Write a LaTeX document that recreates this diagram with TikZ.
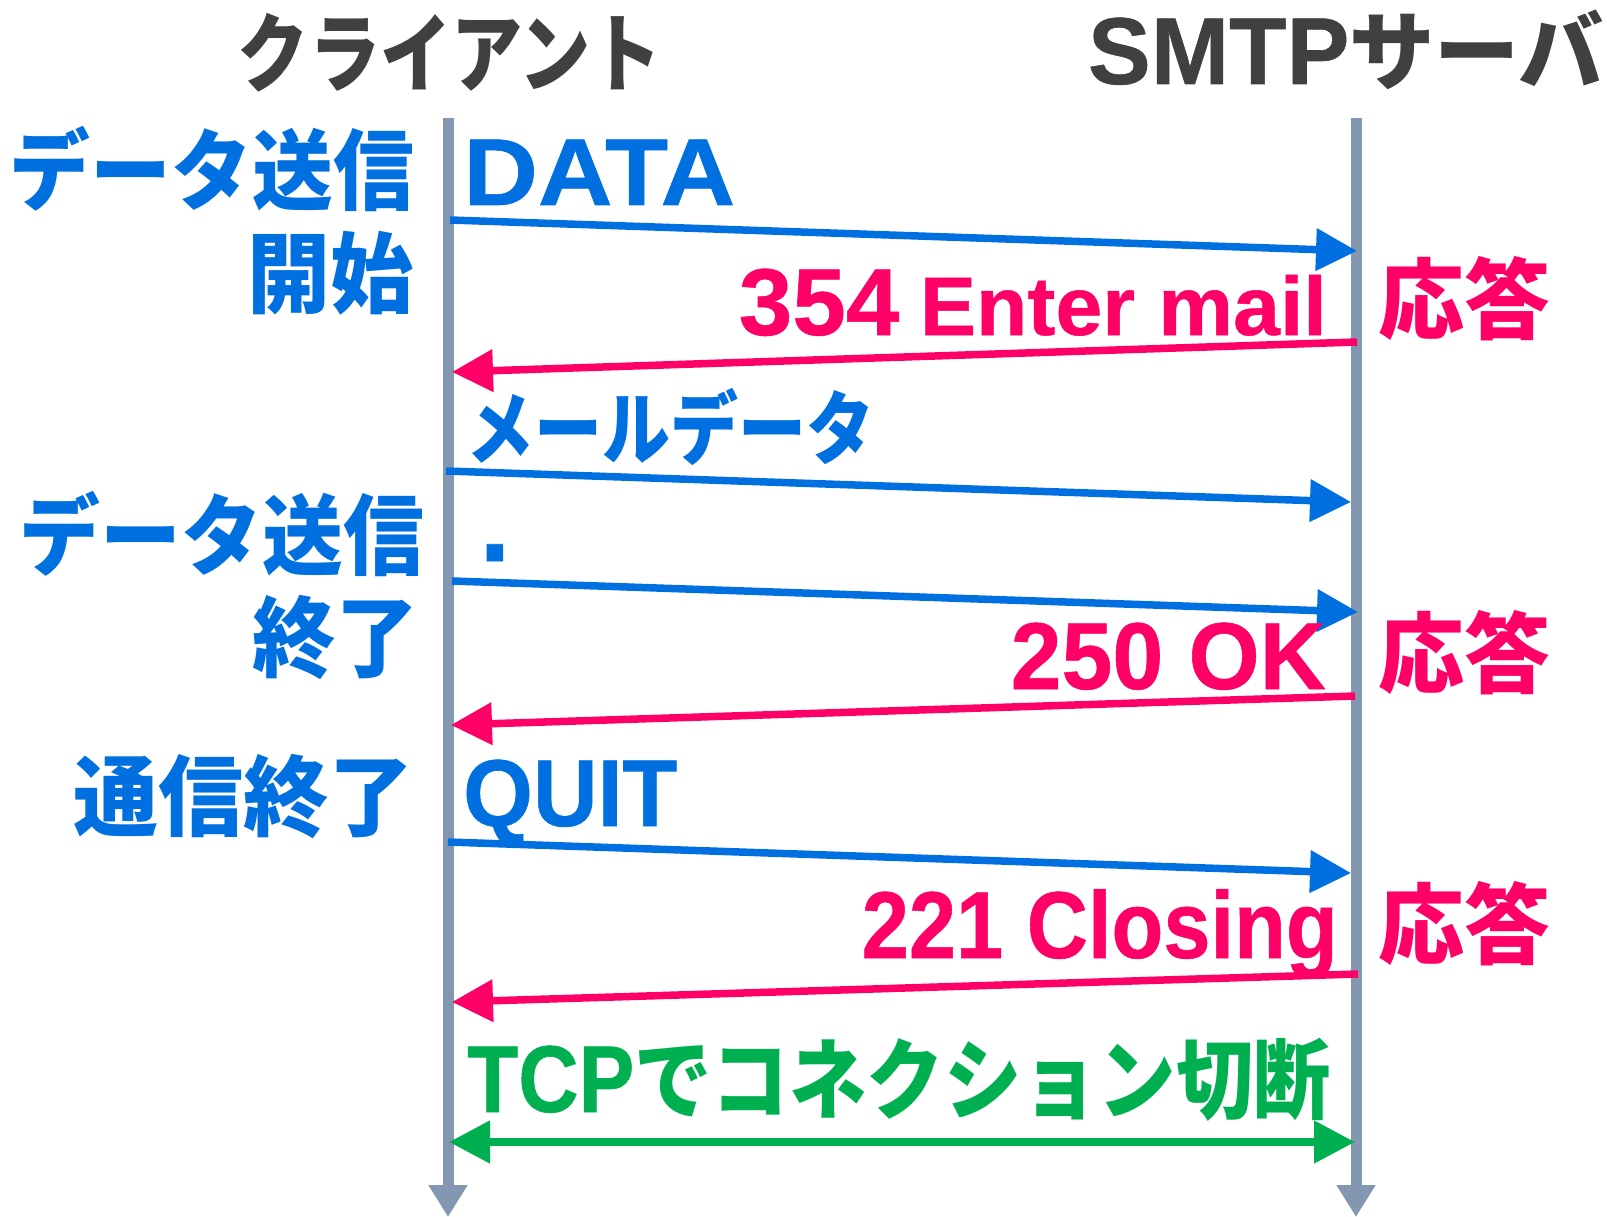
\documentclass[tikz,border=0pt]{standalone}
\usepackage{fontspec}
\setmainfont{Noto Sans CJK JP}
\newfontfamily\lat{Liberation Sans}[FakeBold=0.6]
\newcommand\latL{\lat\fontsize{95}{110}\selectfont}
\newcommand\latS{\lat\fontsize{83}{100}\selectfont}
\newcommand\fitw[2]{\resizebox{#1pt}{\height}{#2}}
\usetikzlibrary{arrows.meta}
\definecolor{cblue}{HTML}{0070E0}
\definecolor{cred}{HTML}{FF0066}
\definecolor{cgreen}{HTML}{00B050}
\definecolor{cgray}{HTML}{8497B0}
\definecolor{ctext}{HTML}{404040}
\begin{document}
\begin{tikzpicture}[x=1pt,y=-1pt,
  lifeline/.style={cgray, line width=11pt, -{Triangle[length=32pt 0, width=37pt 0]}},
  msg/.style={line width=7.5pt, -{Triangle[length=41pt 0, width=41pt 0]}},
  req/.style={msg, cblue},
  resp/.style={msg, cred},
  big/.style={inner sep=0pt, font=\fontsize{88}{100}\selectfont\bfseries},
  head/.style={big, ctext, font=\fontsize{86}{100}\selectfont\bfseries},
  btxt/.style={big, cblue},
  rtxt/.style={big, cred},
  gtxt/.style={big, cgreen}]
\useasboundingbox (0,0) rectangle (1607,1217);
% lifelines
\coordinate (ctop) at (448,118);
\coordinate (cbot) at (448,1217);
\coordinate (stop) at (1356,118);
\coordinate (sbot) at (1356,1217);
\draw[lifeline] (ctop) -- (cbot);
\draw[lifeline] (stop) -- (sbot);
% headers
\node[head, anchor=base] (hc) at (450,86) {\fitw{424}{クライアント}};
\node[head, anchor=base] (hs) at (1346,84) {\fitw{516}{{\latL SMTP}サーバ}};
% left labels
\node[btxt, anchor=base east] (l1) at (414,204) {\fitw{404}{データ送信}};
\node[btxt, anchor=base east] (l2) at (414,307) {\fitw{166}{開始}};
\node[btxt, anchor=base east] (l3) at (424,568) {\fitw{404}{データ送信}};
\node[btxt, anchor=base east] (l4) at (419,670) {\fitw{166}{終了}};
\node[btxt, anchor=base east] (l5) at (414,829) {\fitw{340}{通信終了}};
% message endpoints
\coordinate (a1s) at (450,220);  \coordinate (a1e) at (1357,251);
\coordinate (a2s) at (1357,342); \coordinate (a2e) at (452,372);
\coordinate (a3s) at (446,471);  \coordinate (a3e) at (1351,502);
\coordinate (a4s) at (452,581);  \coordinate (a4e) at (1358,612);
\coordinate (a5s) at (1355,696); \coordinate (a5e) at (451,725);
\coordinate (a6s) at (448,842);  \coordinate (a6e) at (1351,873);
\coordinate (a7s) at (1358,974); \coordinate (a7e) at (452,1002);
\coordinate (a8s) at (449,1142); \coordinate (a8e) at (1355,1142);
\draw[req] (a1s) -- (a1e);
\draw[resp] (a2s) -- (a2e);
\draw[req] (a3s) -- (a3e);
\draw[req] (a4s) -- (a4e);
\draw[resp] (a5s) -- (a5e);
\draw[req] (a6s) -- (a6e);
\draw[resp] (a7s) -- (a7e);
\draw[cgreen, line width=8pt, {Triangle[length=41pt 0, width=41pt 0]}-{Triangle[length=41pt 0, width=41pt 0]}] (a8s) -- (a8e);
% message labels
\node[btxt, anchor=base west] (t1) at (463,205) {\fitw{272}{\latL DATA}};
\node[rtxt, anchor=base east] (t2) at (1327,335) {\fitw{588}{{\latL 354} {\latS Enter mail}}};
\node[rtxt, anchor=base west] (r1) at (1378,332) {\fitw{172}{応答}};
\node[btxt, anchor=base west, font=\fontsize{80}{96}\selectfont\bfseries] (t3) at (466,458) {\fitw{408}{メールデータ}};
\node[btxt, anchor=base] (t4) at (495,561) {\lat\fontsize{112}{120}\selectfont .};
\node[rtxt, anchor=base east] (t5) at (1326,689) {\fitw{315}{\latL 250 OK}};
\node[rtxt, anchor=base west] (r2) at (1378,686) {\fitw{172}{応答}};
\node[btxt, anchor=base west] (t6) at (463,826) {\fitw{214}{\latL QUIT}};
\node[rtxt, anchor=base east] (t7) at (1338,958) {\fitw{476}{\latL 221 Closing}};
\node[rtxt, anchor=base west] (r3) at (1378,957) {\fitw{172}{応答}};
\node[gtxt, anchor=base west] (t8) at (467,1112) {\fitw{864}{{\latL TCP}でコネクション切断}};
\end{tikzpicture}
\end{document}
